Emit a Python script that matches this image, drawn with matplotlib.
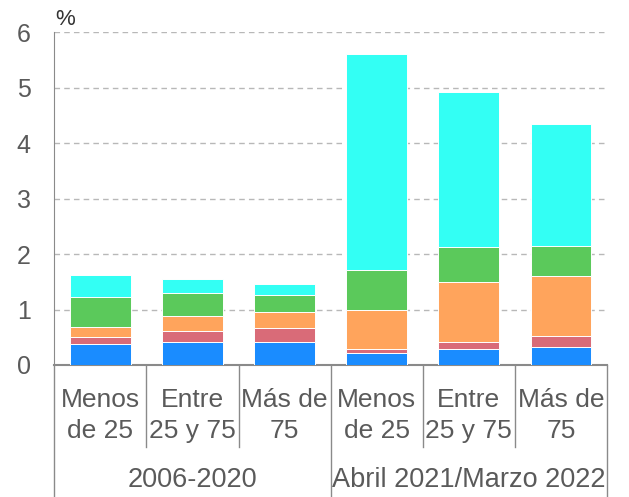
import matplotlib.pyplot as plt
import numpy as np

# age groups and periods
categories = ["Menos\nde 25", "Entre\n25 y 75", "Más de\n75",
              "Menos\nde 25", "Entre\n25 y 75", "Más de\n75"]
periods = ["2006-2020", "Abril 2021/Marzo 2022"]

# stacked segments, bottom to top (%)
blue = [0.38, 0.41, 0.41, 0.21, 0.28, 0.32]
red = [0.12, 0.21, 0.26, 0.07, 0.13, 0.21]
orange = [0.18, 0.27, 0.28, 0.71, 1.09, 1.07]
green = [0.54, 0.40, 0.31, 0.72, 0.62, 0.55]
cyan = [0.41, 0.26, 0.20, 3.89, 2.81, 2.20]

series = [blue, red, orange, green, cyan]
colors = ["#1a8cff", "#d96b78", "#ffa45c", "#5bc95b", "#33fff4"]

plt.rcParams['font.family'] = ['Liberation Sans', 'DejaVu Sans']
txt = "#5a5a5a"

fig = plt.figure(figsize=(6.29, 4.97), dpi=100)
ax = fig.add_axes([0.0863, 0.2656, 0.8787, 0.6694])

x = np.arange(len(categories))
bottom = np.zeros(len(categories))
for vals, c in zip(series, colors):
    ax.bar(x, vals, 0.66, bottom=bottom, color=c, edgecolor="white",
           linewidth=0.7, zorder=3)
    bottom += np.array(vals)

ax.set_xlim(-0.5, 5.5)
ax.set_ylim(0, 6)
ax.set_yticks(range(7))
ax.set_xticks([])
for yv in range(1, 7):
    ax.axhline(yv, color="#b8b8b8", lw=1, ls=(0, (4, 3)), zorder=1)

for s in ["top", "right"]:
    ax.spines[s].set_visible(False)
ax.spines["left"].set_color("#8a8a8a")
ax.spines["bottom"].set_color("#8a8a8a")
ax.spines["bottom"].set_linewidth(1.5)
ax.tick_params(axis="y", length=0, pad=17, labelsize=18, labelcolor=txt)

ax.text(-0.49, 6.04, "%", fontsize=16, color="#333333", ha="left", va="bottom")

tr = ax.get_xaxis_transform()
for xs in [0.5, 1.5, 3.5, 4.5]:
    ax.plot([xs, xs], [0, -0.247], color="#8a8a8a", lw=1, transform=tr, clip_on=False)
for xs in [-0.5, 2.5, 5.5]:
    ax.plot([xs, xs], [0, -0.40], color="#8a8a8a", lw=1, transform=tr, clip_on=False)

for xi, lab in zip(x, categories):
    l1, l2 = lab.split("\n")
    ax.text(xi, -0.126, l1, transform=tr, ha="center", va="baseline",
            fontsize=19, color=txt)
    ax.text(xi, -0.2196, l2, transform=tr, ha="center", va="baseline",
            fontsize=19, color=txt)

ax.text(1, -0.367, periods[0], transform=tr, ha="center", va="baseline",
        fontsize=19.5, color=txt)
ax.text(4, -0.367, periods[1], transform=tr, ha="center", va="baseline",
        fontsize=19.5, color=txt)

fig.savefig("out.png", dpi=100)
